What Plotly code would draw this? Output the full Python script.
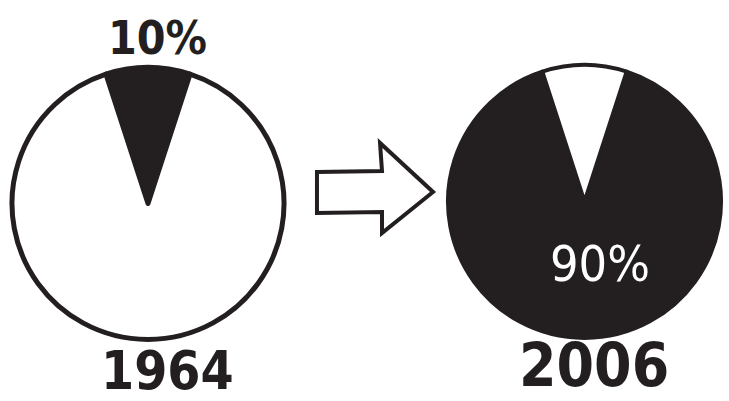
import plotly.graph_objects as go

years = ["1964", "2006"]
labels = ["share", "rest"]
values_1964 = [10, 90]
values_2006 = [90, 10]
pct_text = ["10%", "90%"]

INK = "#231f20"
W, H = 729, 401

fig = go.Figure()

fig.add_trace(go.Pie(
    labels=labels, values=values_1964, sort=False, direction="clockwise",
    rotation=-18,
    marker=dict(colors=[INK, "white"], line=dict(color=INK, width=5)),
    textinfo="none", hoverinfo="label+percent", showlegend=False,
    domain=dict(x=[12 / W, 284 / W], y=[1 - 340 / H, 1 - 67 / H]),
))
fig.add_trace(go.Pie(
    labels=labels, values=values_2006, sort=False, direction="clockwise",
    rotation=18,
    marker=dict(colors=[INK, "white"], line=dict(color=INK, width=4)),
    textinfo="none", hoverinfo="label+percent", showlegend=False,
    domain=dict(x=[447 / W, 722 / W], y=[1 - 338 / H, 1 - 65 / H]),
))

font_name = "DejaVu Sans Condensed, Liberation Sans"
def label(x, y, text, size, color):
    fig.add_annotation(x=x / W, y=1 - y / H, xref="paper", yref="paper",
                       xanchor="center", yanchor="middle",
                       text=text, showarrow=False,
                       font=dict(family=font_name, size=size, color=color))

label(157, 38, "<b>" + pct_text[0] + "</b>", 46, INK)
label(600, 264, pct_text[1], 50, "white")
label(167, 370, "<b>" + years[0] + "</b>", 53, INK)
label(594, 365, "<b>" + years[1] + "</b>", 60, INK)

# outline arrow between the two pies
pts = [(317, 172), (382, 171), (380, 143), (433, 192), (382, 233), (382, 212), (317, 213)]
path = "M " + " L ".join(f"{x / W:.4f},{1 - y / H:.4f}" for x, y in pts) + " Z"
fig.add_shape(type="path", xref="paper", yref="paper", path=path,
              fillcolor="white", line=dict(color=INK, width=4))

fig.update_layout(width=W, height=H, margin=dict(l=0, r=0, t=0, b=0),
                  paper_bgcolor="white", plot_bgcolor="white")
fig.write_html("out.html", config={"displayModeBar": False},
               post_script="document.body.style.margin='0';")
